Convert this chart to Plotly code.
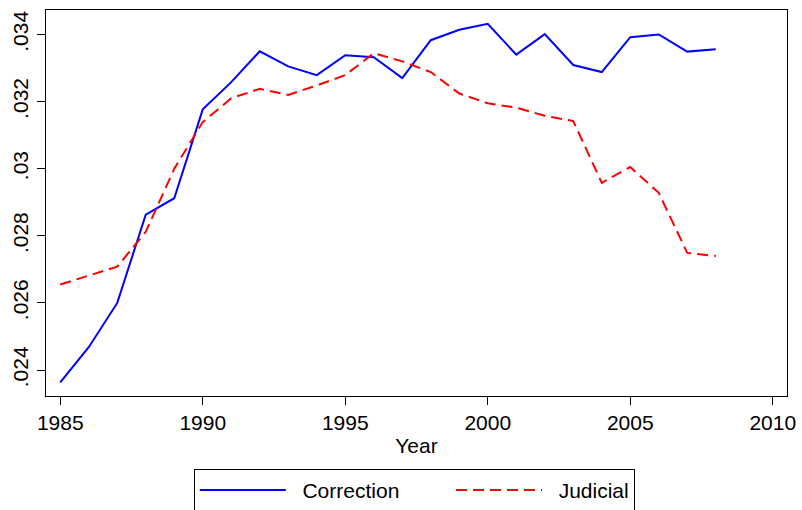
import plotly.graph_objects as go

years = list(range(1985, 2009))
correction = [0.02363, 0.02468, 0.02600, 0.02863, 0.02912, 0.03177, 0.03258, 0.03350,
              0.03305, 0.03279, 0.03338, 0.03332, 0.03270, 0.03383, 0.03414, 0.03432,
              0.03340, 0.03401, 0.03309, 0.03288, 0.03392, 0.03400, 0.03349, 0.03356]
judicial = [0.02655, 0.02682, 0.02708, 0.02812, 0.03000, 0.03139, 0.03210, 0.03238,
            0.03220, 0.03248, 0.03279, 0.03344, 0.03320, 0.03288, 0.03224, 0.03195,
            0.03182, 0.03158, 0.03142, 0.02958, 0.03005, 0.02928, 0.02749, 0.02740]
series_names = ["Correction", "Judicial"]
x_ticks = [1985, 1990, 1995, 2000, 2005, 2010]
y_ticks = [0.024, 0.026, 0.028, 0.030, 0.032, 0.034]
y_tick_labels = [".024", ".026", ".028", ".03", ".032", ".034"]

FONT = "Liberation Sans, Arial, sans-serif"
NB = "\u00a0"

fig = go.Figure()
fig.add_trace(go.Scatter(x=years, y=correction, mode="lines",
                         name=NB * 2 + series_names[0] + NB * 8,
                         line=dict(color="#0000FF", width=2)))
fig.add_trace(go.Scatter(x=years, y=judicial, mode="lines",
                         name=NB * 2 + series_names[1],
                         line=dict(color="#FF0000", width=2, dash="11px,6px")))

fig.update_layout(
    width=802, height=510,
    margin=dict(l=45.5, r=15, t=9.5, b=114, autoexpand=False),
    paper_bgcolor="white", plot_bgcolor="white",
    font=dict(family=FONT, size=21, color="black"),
    showlegend=True,
    legend=dict(orientation="h", x=0.497, xanchor="center", y=-0.1889, yanchor="top",
                bordercolor="black", borderwidth=1, itemwidth=86,
                font=dict(size=21)),
    xaxis=dict(range=[1984.5, 2010.5], tickvals=x_ticks, ticks="outside", ticklen=8,
               tickcolor="black", showline=True, linecolor="black", linewidth=1.3,
               mirror=True, showgrid=False, zeroline=False, automargin=False,
               title=dict(text="Year", font=dict(size=21), standoff=4)),
    yaxis=dict(range=[0.023226, 0.03473], tickvals=y_ticks, ticktext=y_tick_labels,
               tickangle=-90, ticks="outside", ticklen=8, tickcolor="black",
               showline=True, linecolor="black", linewidth=1.3, mirror=True,
               showgrid=False, zeroline=False, automargin=False),
)

fig.write_html("out.html", config={"displayModeBar": False},
               post_script="document.body.style.margin='0';document.body.style.overflow='hidden';")
